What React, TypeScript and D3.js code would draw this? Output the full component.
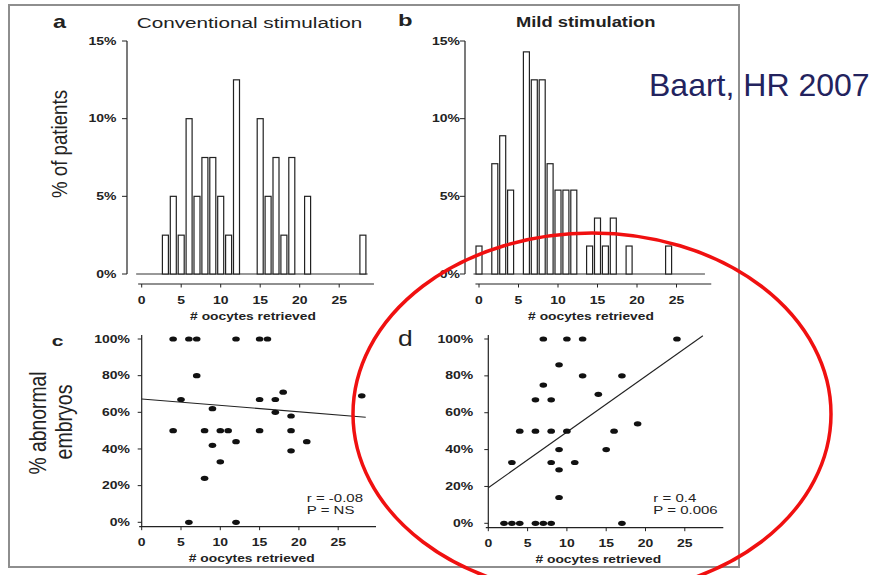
import React from "react";
import * as d3 from "d3";

// histogram data (% of patients per # oocytes)
const convBins = [3, 4, 5, 6, 7, 8, 9, 10, 11, 12, 15, 16, 17, 18, 19, 21, 28];
const convPct = [2.5, 5, 2.5, 10, 5, 7.5, 7.5, 5, 2.5, 12.5, 10, 5, 7.5, 2.5, 7.5, 5, 2.5];
const mildBins = [0, 2, 3, 4, 6, 7, 8, 9, 10, 11, 12, 14, 15, 16, 17, 19, 24];
const mildPct = [1.8, 7.1, 8.9, 5.4, 14.3, 12.5, 12.5, 7.1, 5.4, 5.4, 5.4, 1.8, 3.6, 1.8, 3.6, 1.8, 1.8];

// scatter data (# oocytes vs % abnormal embryos)
const convX = [4, 6, 7, 12, 15, 16, 7, 5, 28, 9, 4, 8, 10, 11, 15, 19, 9, 12, 10, 8, 6, 12, 15, 17, 18, 17, 19, 19, 21];
const convY = [100, 100, 100, 100, 100, 100, 80, 67, 69, 62, 50, 50, 50, 50, 50, 50, 42, 44, 33, 24, 0, 0, 67, 67, 71, 60, 58, 39, 44];
const mildX = [7, 10, 12, 24, 9, 12, 17, 7, 14, 6, 8, 19, 4, 6, 8, 10, 16, 9, 15, 3, 8, 11, 9, 9, 2, 3, 4, 6, 7, 8, 17];
const mildY = [100, 100, 100, 100, 86, 80, 80, 75, 70, 67, 67, 54, 50, 50, 50, 50, 50, 40, 40, 33, 33, 33, 29, 14, 0, 0, 0, 0, 0, 0, 0];

// regression line end points [x, y]
const convFit = [[0, 67.3], [28.5, 57.3]];
const mildFit = [[0, 19.3], [27.3, 101.8]];

const xTicks = [0, 5, 10, 15, 20, 25];
const histYTicks = [0, 5, 10, 15];
const scatYTicks = [0, 20, 40, 60, 80, 100];

const FONT = "'Liberation Sans', Arial, sans-serif";
const INK = "#222";

function T({ x, y, sx = 1, anchor = "start", size = 10, weight = "normal", fill = INK, rotate = 0, children }) {
  const tr = `translate(${x},${y})` + (rotate ? ` rotate(${rotate})` : "") + ` scale(${sx},1)`;
  return (
    <text transform={tr} textAnchor={anchor} fontSize={size} fontWeight={weight} fill={fill} fontFamily={FONT}>
      {children}
    </text>
  );
}

function Hist({ bins, pct, x0, yAxisX, xAxisY, labelRight, xLabelX }) {
  const x = d3.scaleLinear().domain([0, 25]).range([x0, x0 + 25 * 7.9]);
  const y = d3.scaleLinear().domain([0, 15]).range([274, 41]);
  const bw = x(0.76) - x(0);
  return (
    <g>
      <line x1={yAxisX} x2={yAxisX} y1={y(15)} y2={y(0)} stroke={INK} strokeWidth={1.2} />
      {histYTicks.map((t) => (
        <g key={t}>
          <line x1={yAxisX - 5} x2={yAxisX} y1={y(t)} y2={y(t)} stroke={INK} />
          <T x={labelRight} y={y(t) + 3.6} anchor="end" sx={1.4} weight="bold">{t + "%"}</T>
        </g>
      ))}
      <line x1={x(-0.7)} x2={x(28.6)} y1={y(0)} y2={y(0)} stroke="#333" />
      {bins.map((b, i) => (
        <rect key={b} x={x(b) - bw / 2} y={y(pct[i])} width={bw} height={y(0) - y(pct[i])} fill="#fff" stroke="#222" strokeWidth={1.2} />
      ))}
      <line x1={x(-0.45)} x2={x(29.4)} y1={xAxisY} y2={xAxisY} stroke={INK} strokeWidth={1.2} />
      {xTicks.map((t) => (
        <g key={t}>
          <line x1={x(t)} x2={x(t)} y1={xAxisY} y2={xAxisY + 3.5} stroke={INK} />
          <T x={x(t)} y={xAxisY + 20} anchor="middle" sx={1.4} weight="bold">{t}</T>
        </g>
      ))}
      <T x={xLabelX} y={xAxisY + 36} anchor="middle" sx={1.38} weight="bold">
        # oocytes retrieved
      </T>
    </g>
  );
}

function Scatter({ xs, ys, fit, x0, y0, labelRight, xEnd, stats }) {
  const x = d3.scaleLinear().domain([0, 25]).range([x0, x0 + 25 * 7.86]);
  const y = d3.scaleLinear().domain([0, 100]).range([y0, 339]);
  const axisY = y0 + 4.4;
  const line = d3.line().x((d) => x(d[0])).y((d) => y(d[1]));
  return (
    <g>
      <line x1={x0} x2={x0} y1={335} y2={axisY} stroke={INK} strokeWidth={1.2} />
      {scatYTicks.map((t) => (
        <g key={t}>
          <line x1={x0 - 4} x2={x0} y1={y(t)} y2={y(t)} stroke={INK} />
          <T x={labelRight} y={y(t) + 3.6} anchor="end" sx={1.4} weight="bold">{t + "%"}</T>
        </g>
      ))}
      <line x1={x0 - 2.5} x2={xEnd} y1={axisY} y2={axisY} stroke={INK} strokeWidth={1.2} />
      {xTicks.map((t) => (
        <g key={t}>
          <line x1={x(t)} x2={x(t)} y1={axisY} y2={axisY + 3.5} stroke={INK} />
          <T x={x(t)} y={axisY + 19} anchor="middle" sx={1.4} weight="bold">{t}</T>
        </g>
      ))}
      <T x={x(14)} y={axisY + 35} anchor="middle" sx={1.38} weight="bold">
        # oocytes retrieved
      </T>
      <path d={line(fit)} stroke="#222" strokeWidth={1.1} fill="none" />
      {xs.map((v, i) => (
        <ellipse key={i} cx={x(v)} cy={y(ys[i])} rx={3.8} ry={2.6} fill="#111" />
      ))}
      <T x={x(21)} y={501.7} sx={1.5}>{stats[0]}</T>
      <T x={x(21)} y={514.3} sx={1.5}>{stats[1]}</T>
    </g>
  );
}

export default function App() {
  return (
    <svg width={871} height={575} style={{ position: "absolute", left: 0, top: 0, background: "#fff" }}>
      <rect x={0} y={0} width={871} height={575} fill="#fff" />
      <rect x={9} y={5} width={730} height={562} fill="none" stroke="#8e8e8e" strokeWidth={2} />

      {/* a: conventional histogram */}
      <T x={53} y={27.7} size={18} weight="bold" sx={1.3}>a</T>
      <T x={136.7} y={27.5} size={14} sx={1.48}>Conventional stimulation</T>
      <T x={67} y={144} size={22} rotate={-90} sx={0.85} anchor="middle">% of patients</T>
      <Hist bins={convBins} pct={convPct} x0={141.7} yAxisX={127} xAxisY={284} labelRight={116.5} xLabelX={253} />

      {/* b: mild histogram */}
      <T x={398} y={25.5} size={17} weight="bold" sx={1.4}>b</T>
      <T x={516} y={27} size={14} weight="bold" sx={1.31}>Mild stimulation</T>
      <Hist bins={mildBins} pct={mildPct} x0={479} yAxisX={465} xAxisY={284} labelRight={460} xLabelX={591} />

      {/* c: conventional scatter */}
      <T x={51.7} y={346} size={15} weight="bold" sx={1.4}>c</T>
      <T x={46} y={423} size={23} rotate={-90} sx={0.84} anchor="middle">% abnormal</T>
      <T x={72} y={422} size={23} rotate={-90} sx={0.85} anchor="middle">embryos</T>
      <Scatter xs={convX} ys={convY} fit={convFit} x0={141.7} y0={522.3} labelRight={130} xEnd={376} stats={["r = -0.08", "P = NS"]} />

      {/* d: mild scatter */}
      <T x={398} y={346} size={22} sx={1.2}>d</T>
      <Scatter xs={mildX} ys={mildY} fit={mildFit} x0={488.3} y0={523.3} labelRight={473.3} xEnd={723.3} stats={["r = 0.4", "P = 0.006"]} />

      <ellipse cx={592} cy={414} rx={239} ry={181} fill="none" stroke="#f01010" strokeWidth={3.5} />

      <T x={649} y={96} size={32} fill="#23235e">Baart, HR 2007</T>
    </svg>
  );
}
